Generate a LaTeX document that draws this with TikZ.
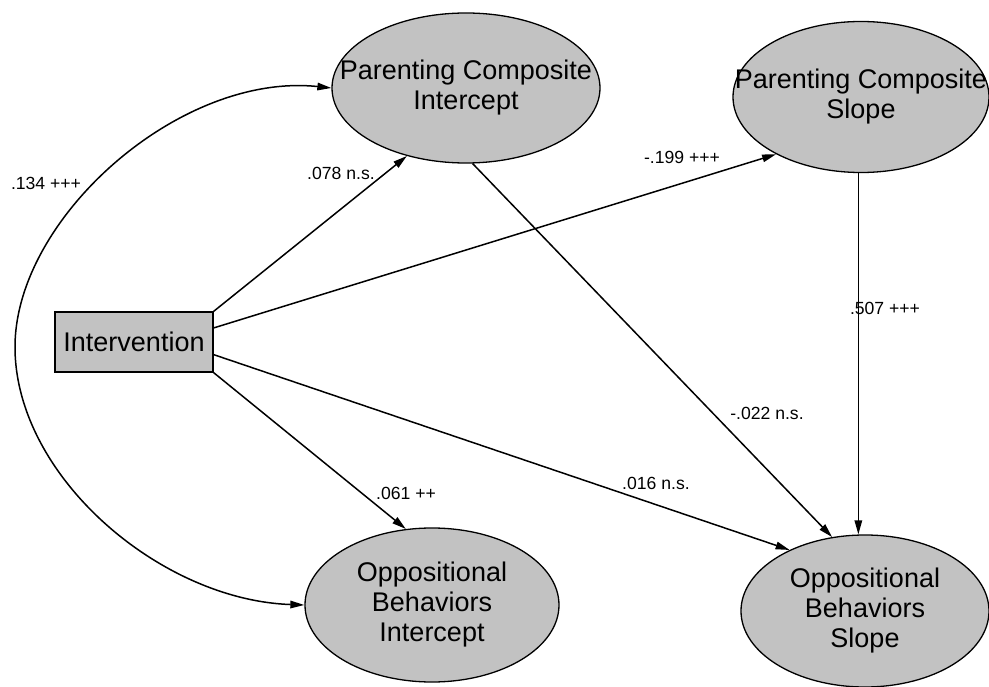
\documentclass[tikz,border=0pt]{standalone}
\usepackage{fontspec}
\setmainfont{Liberation Sans}
\usetikzlibrary{arrows.meta,shapes.geometric}
\definecolor{shade}{gray}{0.76}
\begin{document}
\begin{tikzpicture}[x=1pt,y=-1pt,
  latent/.style={ellipse, draw=black, line width=1.3pt, fill=shade, inner sep=-45pt,
    align=center, font=\fontsize{27}{30}\selectfont},
  obsbox/.style={rectangle, draw=black, line width=1.2pt, fill=shade, inner sep=0pt,
    minimum width=158pt, minimum height=60pt, font=\fontsize{27}{30}\selectfont},
  pathline/.style={line width=1.5pt, -{Triangle[length=14pt,width=7.5pt]}},
  twoway/.style={line width=1.5pt, {Triangle[length=14pt,width=7.5pt]}-{Triangle[length=14pt,width=7.5pt]}},
  coef/.style={font=\fontsize{17.6}{20}\selectfont, inner sep=0pt}]
\useasboundingbox (0,0) rectangle (989,687);

\node[obsbox] (int) at (134,342) {Intervention};
\node[latent, minimum width=268pt, minimum height=150pt] (pci) at (466,88) {Parenting Composite\\Intercept};
\node[latent, minimum width=256pt, minimum height=151pt] (pcs) at (861,97) {Parenting Composite\\Slope};
\node[latent, minimum width=254pt, minimum height=154pt] (obi) at (432,605) {Oppositional\\Behaviors\\Intercept};
\node[latent, minimum width=248pt, minimum height=152pt] (obs) at (865,611) {Oppositional\\Behaviors\\Slope};

\draw[pathline] (int.north east) -- (pci.-131.5);
\draw[pathline] (int.10.75) -- (pcs.-146);
\draw[pathline] (int.-9.3) -- (obs.141.8);
\draw[pathline] (int.south east) -- (obi.109.1);
\draw[pathline] (pci.-85.4) -- (obs.114.8);
\draw[pathline] (pcs.-92) -- (obs.north -| pcs.-92);

\coordinate (arcL) at (15,347);
\draw[twoway] (pci.west) .. controls (180,72) and (15,218) .. (arcL)
  .. controls (15,476) and (160,600) .. (obi.west);

\node[coef] (l1) at (46,183) {.134 +++};
\node[coef] (l2) at (341,173) {.078 n.s.};
\node[coef] (l3) at (682,157) {-.199 +++};
\node[coef] (l4) at (885,308) {.507 +++};
\node[coef] (l5) at (767,413) {-.022 n.s.};
\node[coef] (l6) at (406,493) {.061 ++};
\node[coef] (l7) at (656,483) {.016 n.s.};
\end{tikzpicture}
\end{document}
